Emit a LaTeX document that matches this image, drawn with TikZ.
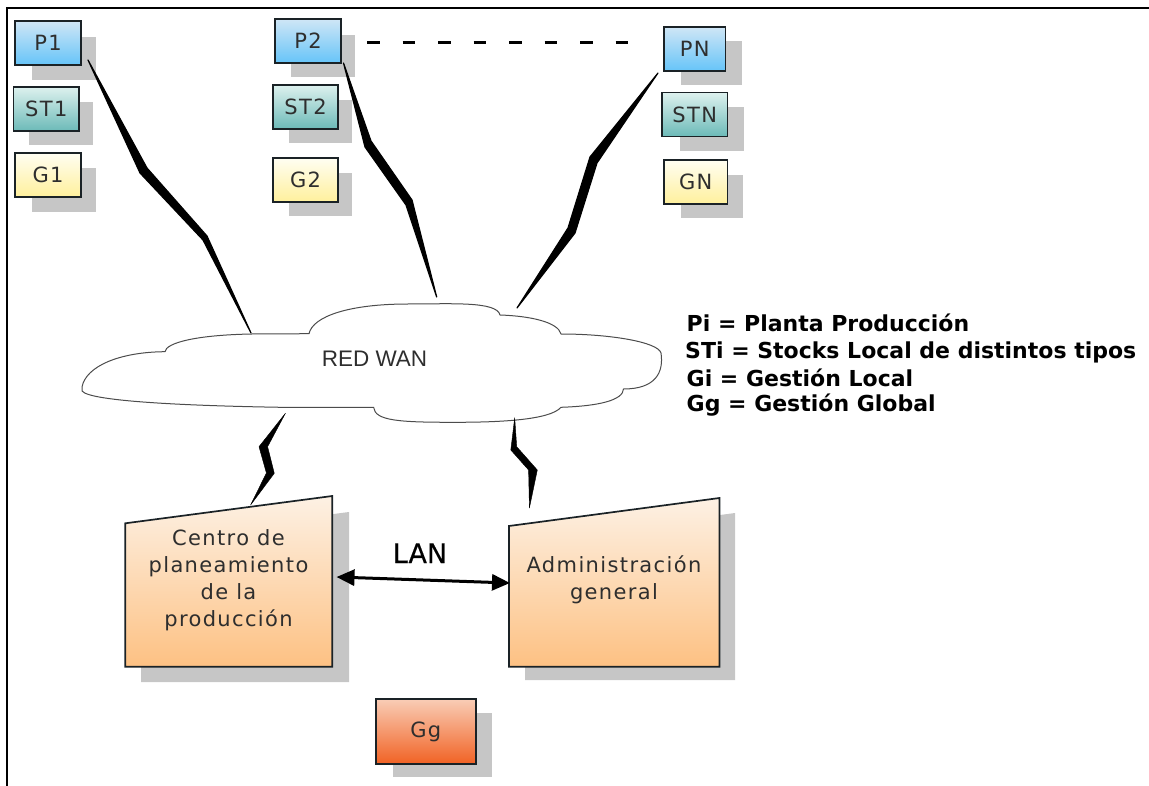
\documentclass[tikz,border=0pt]{standalone}
\usepackage{fontspec}
\usetikzlibrary{arrows.meta}
\setmainfont{DejaVu Sans}
\newfontfamily\boxf[LetterSpace=6.5]{DejaVu Sans}
\newfontfamily\lanf[FakeBold=0.4]{DejaVu Sans}
\newfontfamily\cloudf{Liberation Sans}
\definecolor{shad}{HTML}{C6C6C6}
\definecolor{ink}{HTML}{1A2226}
\definecolor{txt}{HTML}{2E2E2E}
\definecolor{blueT}{HTML}{CFE6F6}\definecolor{blueB}{HTML}{66C4F8}
\definecolor{tealT}{HTML}{DDF1EE}\definecolor{tealB}{HTML}{6CBAB8}
\definecolor{yelT}{HTML}{FFFEF2}\definecolor{yelB}{HTML}{FFF09C}
\definecolor{redT}{HTML}{F9CDB6}\definecolor{redB}{HTML}{F16224}
\definecolor{orT}{HTML}{FDF1E4}\definecolor{orB}{HTML}{FDC183}
\tikzset{
  shadowrect/.style={fill=shad,draw=none},
  smallbox/.style={draw=ink,line width=1.7pt,inner sep=0pt,font=\boxf\fontsize{21}{27}\selectfont,text=txt},
  bluebox/.style={smallbox,top color=blueT,bottom color=blueB},
  tealbox/.style={smallbox,top color=tealT,bottom color=tealB},
  yellowbox/.style={smallbox,top color=yelT,bottom color=yelB},
  redbox/.style={smallbox,top color=redT,bottom color=redB},
  bigbox/.style={draw=ink,line width=1.7pt,top color=orT,bottom color=orB},
  biglabel/.style={font=\boxf\fontsize{21}{27}\selectfont,text=txt,align=center,inner sep=0pt},
  bolt/.style={fill=black,draw=black,line width=1.2pt,line join=round},
  legend/.style={font=\bfseries\fontsize{22}{26.7}\selectfont,anchor=base west,inner sep=0pt,text=black},
}
\begin{document}
\begin{tikzpicture}[x=1pt,y=-1pt]
\useasboundingbox (0,0) rectangle (1149,786);
\draw[line width=2pt,black] (7,786) -- (7,7.7) -- (1149,7.7);
% shadows
\fill[shadowrect] (32,37) rectangle (96,80);
\fill[shadowrect] (29,102) rectangle (93,145);
\fill[shadowrect] (32,168) rectangle (96,212);
\fill[shadowrect] (291,35) rectangle (355,77);
\fill[shadowrect] (289,100) rectangle (352,143);
\fill[shadowrect] (289,173) rectangle (352,216);
\fill[shadowrect] (681,41) rectangle (742,85);
\fill[shadowrect] (680,107) rectangle (744,151);
\fill[shadowrect] (681,175) rectangle (743,218);
\fill[shadowrect] (392.5,713) rectangle (491.5,777);
\fill[shadowrect] (141,539) -- (349,512) -- (349,682) -- (141,682) -- cycle;
\fill[shadowrect] (525,541) -- (735,513) -- (735,680) -- (525,680) -- cycle;
% small boxes
\node[bluebox,minimum width=66pt,minimum height=44pt] (p1) at (48,43) {P1};
\node[tealbox,minimum width=65.5pt,minimum height=44pt] (st1) at (46.3,109) {ST1};
\node[yellowbox,minimum width=66pt,minimum height=44pt] (g1) at (48,175) {G1};
\node[bluebox,minimum width=66pt,minimum height=44pt] (p2) at (308,41) {P2};
\node[tealbox,minimum width=65pt,minimum height=44pt] (st2) at (305.5,107) {ST2};
\node[yellowbox,minimum width=65pt,minimum height=44pt] (g2) at (305.5,180) {G2};
\node[bluebox,minimum width=61.5pt,minimum height=44pt] (pn) at (694.7,49) {PN};
\node[tealbox,minimum width=65.5pt,minimum height=44pt] (stn) at (694.7,114.5) {STN};
\node[yellowbox,minimum width=63.5pt,minimum height=44pt] (gn) at (695.7,182) {GN};
\node[redbox,minimum width=100pt,minimum height=65pt] (gg) at (425.8,731.5) {Gg};
% dashed link
\coordinate (d1) at (367,43);
\coordinate (d2) at (628,43);
\draw[line width=3pt,black,dash pattern=on 12.5pt off 23pt] (d1) -- (d2);
% cloud
\draw[line width=1pt,draw=black!70,fill=white] (82,387)
  .. controls (86,366) and (120,352) .. (165,351.7)
  .. controls (166,343) and (195,335) .. (252,334) -- (309,333.7)
  .. controls (313,316) and (350,304) .. (408,304)
  .. controls (450,304) and (497,301) .. (500,315)
  .. controls (530,316) and (558,322) .. (561,334)
  .. controls (610,334) and (658,342) .. (661,353)
  .. controls (664,373) and (655,389) .. (623.5,389)
  .. controls (623,400) and (600,406) .. (561,407.3)
  .. controls (550,420) and (500,422.3) .. (455,422.3)
  .. controls (400,422.3) and (375,421) .. (373.6,407.3)
  -- (281,407.3)
  .. controls (200,406) and (90,402) .. (82,391) -- cycle;
\node[font=\cloudf\fontsize{22.5}{27}\selectfont,text=txt,inner sep=0pt] (wan) at (374.5,358.5) {RED WAN};
% bolts
\coordinate (b1a) at (88,60);  \coordinate (b1z) at (251,333);
\coordinate (b2a) at (343.5,63); \coordinate (b2z) at (436.7,297);
\coordinate (b3a) at (658,73); \coordinate (b3z) at (517,308);
\fill[bolt] (b1a) -- (147,168) -- (207,236) -- (b1z) -- (203,240) -- (140,173) -- cycle;
\fill[bolt] (b2a) -- (371,141) -- (412,200) -- (b2z) -- (406,205) -- (365,147) -- cycle;
\fill[bolt] (b3a) -- (597,163) -- (575,233) -- (b3z) -- (568,228) -- (590,157) -- cycle;
\coordinate (b4a) at (285.4,413.3); \coordinate (b4z) at (250.6,505);
\coordinate (b5a) at (514.7,417.7); \coordinate (b5z) at (529.4,508);
\fill[bolt,line width=0.4pt] (b4a) -- (259,446.7) -- (266.4,473) -- (b4z) -- (274.3,473.3) -- (267.6,446.7) -- cycle;
\fill[bolt,line width=0.4pt] (b5a) -- (510.8,450) -- (528.6,470) -- (b5z) -- (537.3,470) -- (516.7,446.7) -- cycle;
% big boxes
\draw[bigbox] (125.3,523.3) -- (332.3,496) -- (332.3,666.7) -- (125.3,666.7) -- cycle;
\draw[bigbox] (509,526) -- (719.5,498) -- (719.5,666.7) -- (509,666.7) -- cycle;
\node[biglabel,anchor=north] (centro) at (228.5,529) {Centro de\\planeamiento\\de la\\producción};
\node[biglabel,anchor=north] (admin) at (614,556) {Administración\\general};
% LAN
\coordinate (lanl) at (336.5,577);
\coordinate (lanr) at (510,583);
\draw[line width=3pt,black,{Triangle[length=18pt,width=16pt]}-{Triangle[length=18pt,width=16pt]}] (lanl) -- (lanr);
\node[font=\lanf\fontsize{27}{27}\selectfont,text=black,anchor=base,inner sep=0pt] (lan) at (420,563) {LAN};
% legend
\node[legend] (l1) at (686.5,331.7) {Pi = Planta Producción};
\node[legend] (l2) at (685,359) {STi = Stocks Local de distintos tipos};
\node[legend] (l3) at (686.5,386) {Gi = Gestión Local};
\node[legend] (l4) at (686.5,411.7) {Gg = Gestión Global};
\end{tikzpicture}
\end{document}
